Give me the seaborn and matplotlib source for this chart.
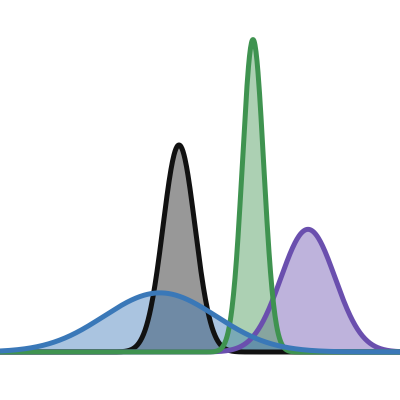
import numpy as np
import pandas as pd
import seaborn as sns
import matplotlib.pyplot as plt

# normal curves: drawing order bottom -> top
names = ['black', 'purple', 'green', 'blue']
means = [179, 308, 253, 160]
sds = [16, 27, 10.6, 56]
line_colors = ['#111111', '#6a4fae', '#3f9350', '#3a78b8']
fill_alpha = 0.43

x = np.linspace(0, 400, 801)
rows = []
for n, m, s in zip(names, means, sds):
    y = np.exp(-0.5 * ((x - m) / s) ** 2) / (s * np.sqrt(2 * np.pi))
    rows.append(pd.DataFrame({'x': x, 'y': y, 'curve': n}))
df = pd.concat(rows, ignore_index=True)

sns.set_style('white')
fig = plt.figure(figsize=(4, 4), dpi=100)
ax = fig.add_axes([0, 0, 1, 1])

for n, c in zip(names, line_colors):
    d = df[df['curve'] == n]
    ax.fill_between(d['x'], 0, d['y'], color=c, alpha=fill_alpha, lw=0)
    sns.lineplot(data=d, x='x', y='y', color=c, lw=3.6, ax=ax,
                 solid_capstyle='butt', solid_joinstyle='round')

# vertical scale: black peak height ~207 px
px_per_unit = 207 * sds[0] * np.sqrt(2 * np.pi)
ax.set_xlim(0, 400)
ax.set_ylim(-48 / px_per_unit, 352 / px_per_unit)
ax.set_axis_off()

fig.savefig('out.png', dpi=100)
